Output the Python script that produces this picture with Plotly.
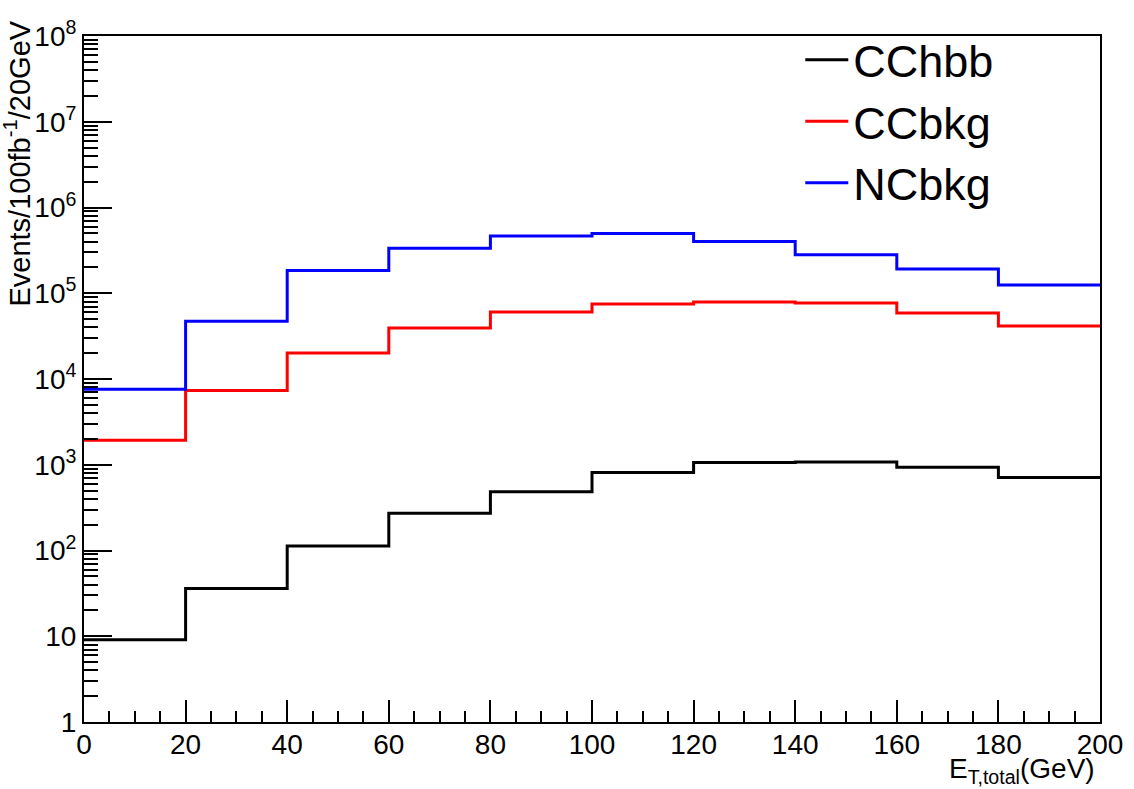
import plotly.graph_objects as go

# Bin edges (GeV) and per-bin event counts
bin_edges = [0, 20, 40, 60, 80, 100, 120, 140, 160, 180, 200]
cchbb = [9.1, 36, 113, 272, 485, 810, 1060, 1077, 934, 708]
ccbkg = [1930, 7330, 20100, 39300, 60400, 75000, 79000, 77000, 58900, 41500]
ncbkg = [7600, 47100, 184000, 334000, 465000, 496000, 400000, 282000, 192000, 125000]

series_names = ["CChbb", "CCbkg", "NCbkg"]
series_values = [cchbb, ccbkg, ncbkg]
series_colors = ["#000000", "#ff0000", "#0000ff"]

ytick_vals = [1, 10, 100, 1e3, 1e4, 1e5, 1e6, 1e7, 1e8]
ytick_text = ["1", "10", "10<sup>2</sup>", "10<sup>3</sup>", "10<sup>4</sup>",
              "10<sup>5</sup>", "10<sup>6</sup>", "10<sup>7</sup>", "10<sup>8</sup>"]

FONT = "Liberation Sans, Arial, Helvetica, sans-serif"

fig = go.Figure()
for i, (name, vals, col) in enumerate(zip(series_names, series_values, series_colors)):
    xs = bin_edges[:-1] + [bin_edges[-1]]
    ys = list(vals) + [vals[-1]]
    fig.add_trace(go.Scatter(
        x=xs, y=ys, mode="lines", name=name,
        line=dict(color=col, width=3, shape="hv"),
        legendgroup=name, showlegend=True,
    ))

fig.update_layout(
    width=1134, height=789,
    margin=dict(l=84, r=34, t=36, b=67),
    paper_bgcolor="white", plot_bgcolor="white",
    font=dict(family=FONT, size=28, color="black"),
    showlegend=True,
    legend=dict(
        x=0.705, y=1.0175, xanchor="left", yanchor="top",
        bgcolor="rgba(0,0,0,0)", borderwidth=0,
        font=dict(family=FONT, size=45, color="black"),
        tracegroupgap=0, itemwidth=43,
    ),
)

fig.update_xaxes(
    range=[0, 200], dtick=20, tick0=0,
    showline=True, linecolor="black", linewidth=2, mirror=True,
    ticks="inside", ticklen=22, tickwidth=1.5, tickcolor="black",
    minor=dict(dtick=5, ticks="inside", ticklen=11, tickwidth=1.5, tickcolor="black", showgrid=False),
    showgrid=False, zeroline=False,
    tickfont=dict(family=FONT, size=28, color="black"),
    ticklabelstandoff=-4,
)
fig.update_yaxes(
    type="log", range=[0, 8],
    tickmode="array", tickvals=ytick_vals, ticktext=ytick_text,
    showline=True, linecolor="black", linewidth=2, mirror=True,
    ticks="inside", ticklen=28, tickwidth=1.5, tickcolor="black",
    minor=dict(dtick="D1", ticks="inside", ticklen=14, tickwidth=1.5, tickcolor="black", showgrid=False),
    showgrid=False, zeroline=False,
    tickfont=dict(family=FONT, size=28, color="black"),
)

fig.add_annotation(
    text="Events/100fb<sup>-1</sup>/20GeV",
    xref="paper", yref="paper", x=-0.066, y=0.814,
    xanchor="center", yanchor="middle", textangle=-90, showarrow=False,
    font=dict(family=FONT, size=29, color="black"),
)
fig.add_annotation(
    text="E<sub>T,total</sub>(GeV)",
    xref="paper", yref="paper", x=0.997, y=-0.0705,
    xanchor="right", yanchor="middle", showarrow=False,
    font=dict(family=FONT, size=28, color="black"),
)

fig.write_html("out.html")
